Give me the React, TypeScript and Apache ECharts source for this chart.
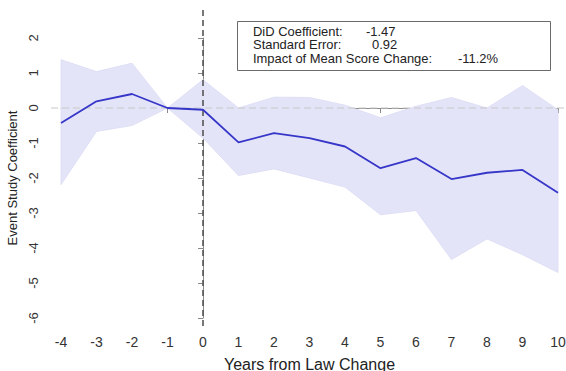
import React, { useEffect, useRef } from "react";
import * as echarts from "echarts";

// Years relative to the law change
const years = [-4, -3, -2, -1, 0, 1, 2, 3, 4, 5, 6, 7, 8, 9, 10];
// Event-study point estimates
const coefficients = [-0.43, 0.19, 0.4, 0, -0.05, -0.98, -0.72, -0.86, -1.1, -1.72, -1.43, -2.03, -1.85, -1.77, -2.42];
// Confidence interval bounds
const upperBound = [1.38, 1.04, 1.28, 0, 0.81, 0.0, 0.31, 0.3, 0.08, -0.28, 0.05, 0.3, 0.0, 0.64, -0.05];
const lowerBound = [-2.19, -0.67, -0.5, 0, -0.86, -1.93, -1.74, -2.0, -2.26, -3.05, -2.93, -4.33, -3.74, -4.19, -4.7];
// Y axis ticks
const yTicks = [-6, -5, -4, -3, -2, -1, 0, 1, 2];
// Summary box contents
const summaryLabels = ["DiD Coefficient:", "Standard Error:", "Impact of Mean Score Change:"];
const summaryValues = ["-1.47", "0.92", "-11.2%"];

const FONT = "Liberation Sans, Arial, sans-serif";

export default function App() {
  const ref = useRef<HTMLDivElement>(null);

  useEffect(() => {
    if (!ref.current) return;
    const chart = echarts.init(ref.current, null, { renderer: "svg" });

    const pxPerYear = (558 - 61) / 14;
    const pxPerUnit = (318 - 38) / 8;
    const rowY = [32, 45.5, 59];

    chart.setOption({
      animation: false,
      backgroundColor: "#ffffff",
      grid: [
        { left: 61, right: 8, top: 38, bottom: 53, containLabel: false, outerBoundsMode: "none" },
        // full plot region for reference lines
        { left: 51, right: 0, top: 10, bottom: 43, containLabel: false, outerBoundsMode: "none" },
      ],
      xAxis: [
        {
          type: "value",
          gridIndex: 0,
          min: -4,
          max: 10,
          interval: 1,
          offset: 10,
          name: "Years from Law Change",
          nameLocation: "middle",
          nameGap: 28,
          nameTextStyle: { fontFamily: FONT, fontSize: 16, color: "#222" },
          axisLine: { show: true, lineStyle: { color: "#8a8a8a", width: 1 } },
          axisTick: { show: true, length: 5, lineStyle: { color: "#8a8a8a" } },
          axisLabel: { fontFamily: FONT, fontSize: 14, color: "#333", margin: 7 },
          splitLine: { show: false },
        },
        {
          type: "value",
          gridIndex: 1,
          min: -4 - 10 / pxPerYear,
          max: 10 + 8 / pxPerYear,
          show: false,
        },
      ],
      yAxis: [
        {
          type: "value",
          gridIndex: 0,
          min: yTicks[0],
          max: yTicks[yTicks.length - 1],
          interval: 1,
          offset: 10,
          name: "Event Study Coefficient",
          nameLocation: "middle",
          nameGap: 30,
          nameRotate: 90,
          nameTextStyle: { fontFamily: FONT, fontSize: 13, color: "#222" },
          axisLine: { show: true, lineStyle: { color: "#8a8a8a", width: 1 } },
          axisTick: { show: true, length: 5, lineStyle: { color: "#8a8a8a" } },
          axisLabel: { fontFamily: FONT, fontSize: 13, color: "#333", rotate: 90, margin: 11 },
          splitLine: { show: false },
        },
        {
          type: "value",
          gridIndex: 1,
          min: -6 - 10 / pxPerUnit,
          max: 2 + 28 / pxPerUnit,
          show: false,
        },
      ],
      series: [
        {
          type: "custom",
          xAxisIndex: 0,
          yAxisIndex: 0,
          clip: false,
          data: years.map((y, i) => [y, upperBound[i], lowerBound[i]]),
          renderItem: (params: any, api: any) => {
            if (params.dataIndex !== 0) return null;
            const pts: number[][] = [];
            years.forEach((y, i) => pts.push(api.coord([y, upperBound[i]])));
            for (let i = years.length - 1; i >= 0; i--) pts.push(api.coord([years[i], lowerBound[i]]));
            return {
              type: "polygon",
              shape: { points: pts },
              style: { fill: "#e4e4f9", stroke: "#dadaf4", lineWidth: 0.8 },
            };
          },
          z: 1,
        },
        {
          type: "line",
          xAxisIndex: 1,
          yAxisIndex: 1,
          data: [
            [-4 - 10 / pxPerYear, 0],
            [10 + 8 / pxPerYear, 0],
          ],
          symbol: "none",
          lineStyle: { color: "#c8c8c8", width: 1.2, type: [7, 4] },
          z: 2,
        },
        {
          type: "line",
          xAxisIndex: 1,
          yAxisIndex: 1,
          data: [
            [0, 2 + 28 / pxPerUnit],
            [0, -6 - 10 / pxPerUnit],
          ],
          symbol: "none",
          lineStyle: { color: "#555555", width: 1.6, type: [6, 4] },
          z: 3,
        },
        {
          type: "line",
          xAxisIndex: 0,
          yAxisIndex: 0,
          data: years.map((y, i) => [y, coefficients[i]]),
          symbol: "none",
          lineStyle: { color: "#3636c8", width: 1.8 },
          z: 4,
        },
      ],
      graphic: [
        {
          type: "rect",
          shape: { x: 237.5, y: 21.5, width: 313, height: 49 },
          style: { fill: "#ffffff", stroke: "#6a6a6a", lineWidth: 1 },
          z: 10,
        },
        ...summaryLabels.map((t, i) => ({
          type: "text",
          x: 253,
          y: rowY[i],
          scaleX: 1.08,
          style: { text: t, fontFamily: FONT, fontSize: 12, lineHeight: 12, fill: "#222", verticalAlign: "middle" },
          z: 11,
        })),
        ...summaryValues.map((t, i) => ({
          type: "text",
          x: [366, 372, 458][i],
          y: rowY[i],
          scaleX: 1.08,
          style: { text: t, fontFamily: FONT, fontSize: 12, lineHeight: 12, fill: "#222", verticalAlign: "middle" },
          z: 11,
        })),
      ],
    });

    return () => chart.dispose();
  }, []);

  return <div ref={ref} style={{ width: 566, height: 371, position: "absolute", left: 0, top: 0 }} />;
}
